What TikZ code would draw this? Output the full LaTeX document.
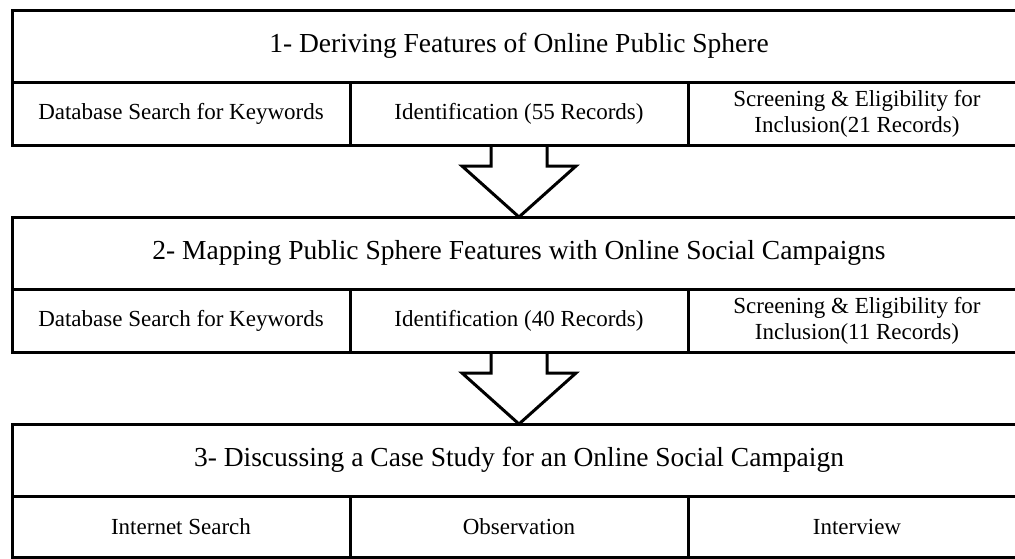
\documentclass[tikz,border=0pt]{standalone}
\usepackage{fontspec}
\setmainfont{Liberation Serif}
\usetikzlibrary{calc}
\tikzset{
    stagebox/.style={draw, line width=3pt, anchor=north west, outer sep=0pt,
        minimum width=1014pt, minimum height=72pt, inner sep=0pt,
        font=\fontsize{27.5}{32}\selectfont},
    stepcell/.style={draw, line width=3pt, anchor=north west, outer sep=0pt,
        minimum width=338pt, minimum height=63pt, inner sep=0pt,
        align=center, font=\fontsize{23}{26}\selectfont},
    blockarrow/.style={draw, line width=3pt, line join=miter},
}

\begin{document}
\begin{tikzpicture}[x=1pt,y=-1pt]
    \useasboundingbox (0,0) rectangle (1015,558);
    \pgfmathsetmacro{\shaft}{28}   % half the shaft width
    \pgfmathsetmacro{\head}{57}    % half the head width
    \pgfmathsetmacro{\headlen}{51}

    % stage 1
    \node[stagebox] (stageA) at (12,10) {1- Deriving Features of Online Public Sphere};
    \node[stepcell] (searchA) at (stageA.south west) {Database Search for Keywords};
    \node[stepcell] (identA) at (searchA.north east) {Identification (55 Records)};
    \node[stepcell] (screenA) at (identA.north east) {Screening \& Eligibility for\\Inclusion(21 Records)};

    % stage 2
    \node[stagebox] (stageB) at (12,217) {2- Mapping Public Sphere Features with Online Social Campaigns};
    \node[stepcell] (searchB) at (stageB.south west) {Database Search for Keywords};
    \node[stepcell] (identB) at (searchB.north east) {Identification (40 Records)};
    \node[stepcell] (screenB) at (identB.north east) {Screening \& Eligibility for\\Inclusion(11 Records)};

    % stage 3
    \node[stagebox] (stageC) at (12,424) {3- Discussing a Case Study for an Online Social Campaign};
    \node[stepcell, minimum height=61pt] (netC) at (stageC.south west) {Internet Search};
    \node[stepcell, minimum height=61pt] (obsC) at (netC.north east) {Observation};
    \node[stepcell, minimum height=61pt] (interC) at (obsC.north east) {Interview};

    % arrows between the stages
    \draw[blockarrow] ($(identA.south)+(-\shaft,0)$) -- ($(stageB.north)+(-\shaft,-\headlen)$)
        -- ++(\shaft-\head,0) -- (stageB.north) -- ++(\head,-\headlen)
        -- ++(\shaft-\head,0) -- ($(identA.south)+(\shaft,0)$);
    \draw[blockarrow] ($(identB.south)+(-\shaft,0)$) -- ($(stageC.north)+(-\shaft,-\headlen)$)
        -- ++(\shaft-\head,0) -- (stageC.north) -- ++(\head,-\headlen)
        -- ++(\shaft-\head,0) -- ($(identB.south)+(\shaft,0)$);
\end{tikzpicture}
\end{document}
